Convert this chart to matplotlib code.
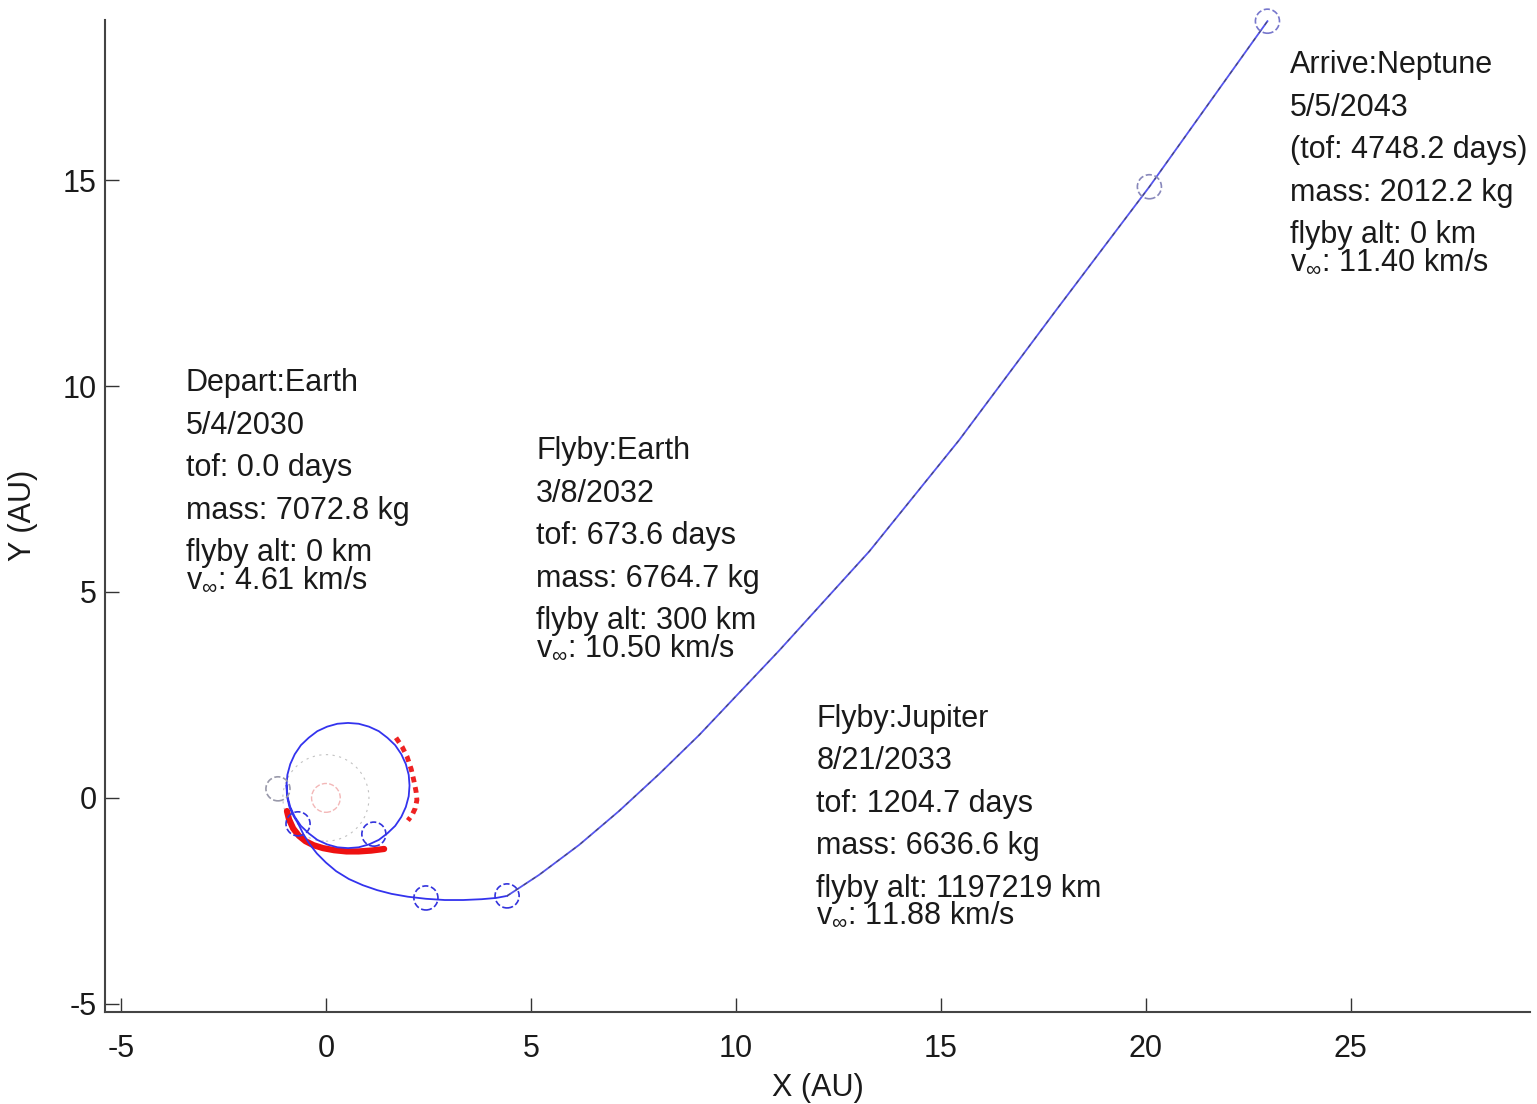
#!/usr/bin/env python3
"""
Trajectory plot: Earth -> Earth -> Jupiter -> Neptune (heliocentric, AU)
"""

import matplotlib
matplotlib.use("Agg")
import matplotlib.pyplot as plt
from matplotlib.patches import Circle

# ---- data (AU) ----
# first leg: departure loop, ~1 rev + a bit, ending at the Earth flyby
leg1_x = [-0.96, -0.94, -0.87, -0.76, -0.61, -0.42, -0.21, 0.03, 0.28, 0.54, 0.80, 1.05,
          1.29, 1.50, 1.69, 1.84, 1.95, 2.02, 2.04, 2.02, 1.95, 1.84, 1.69, 1.50,
          1.29, 1.05, 0.80, 0.54, 0.28, 0.03, -0.21, -0.42, -0.61, -0.76, -0.87, -0.94,
          -0.96, -0.95, -0.89, -0.79, -0.68]
leg1_y = [0.30, 0.04, -0.22, -0.46, -0.68, -0.86, -1.02, -1.13, -1.20, -1.22, -1.20, -1.13,
          -1.02, -0.86, -0.68, -0.46, -0.22, 0.04, 0.30, 0.56, 0.82, 1.06, 1.28, 1.46,
          1.62, 1.73, 1.80, 1.82, 1.80, 1.73, 1.62, 1.46, 1.28, 1.06, 0.82, 0.56,
          0.30, 0.04, -0.22, -0.44, -0.62]

# second leg: Earth flyby -> Jupiter
leg2_x = [-0.68, -0.55, -0.40, -0.22, 0.00, 0.25, 0.56, 0.90, 1.25, 1.60, 2.00, 2.44,
          2.90, 3.35, 3.80, 4.15, 4.42]
leg2_y = [-0.62, -0.88, -1.12, -1.35, -1.57, -1.78, -1.97, -2.12, -2.24, -2.33, -2.40, -2.45,
          -2.48, -2.48, -2.46, -2.43, -2.38]

# third leg: Jupiter -> Neptune
leg3_x = [4.42, 5.20, 6.18, 7.15, 8.13, 9.11, 11.06, 13.26, 15.45, 17.82, 20.09, 22.97]
leg3_y = [-2.38, -1.87, -1.14, -0.32, 0.58, 1.53, 3.58, 5.99, 8.69, 11.85, 14.84, 18.86]

# thrust arcs
thrust_bottom_x = [-0.95, -0.90, -0.80, -0.66, -0.50, -0.30, -0.07, 0.20, 0.50, 0.80, 1.10, 1.42]
thrust_bottom_y = [-0.32, -0.52, -0.74, -0.92, -1.05, -1.15, -1.22, -1.27, -1.30, -1.30, -1.28, -1.24]
thrust_right_x = [1.71, 1.86, 1.98, 2.08, 2.15, 2.20, 2.22, 2.18, 2.10, 2.00]
thrust_right_y = [1.46, 1.24, 1.00, 0.70, 0.40, 0.15, -0.05, -0.25, -0.42, -0.55]

# body positions (dashed circle markers)
body_x = [-1.17, -0.68, 1.17, 2.44, 4.42, 20.09, 22.97]
body_y = [0.22, -0.63, -0.88, -2.43, -2.38, 14.84, 18.86]
body_col = ['#9999aa', '#3333dd', '#3333dd', '#3333dd', '#3333dd', '#8888bb', '#7777cc']

# annotation blocks: (first-line anchor x, y, lines, v_inf)
labels = [
    (-3.42, 10.07, ["Depart:Earth", "5/4/2030", "tof: 0.0 days", "mass: 7072.8 kg",
                    "flyby alt: 0 km"], "4.61"),
    (5.13, 8.42, ["Flyby:Earth", "3/8/2032", "tof: 673.6 days", "mass: 6764.7 kg",
                  "flyby alt: 300 km"], "10.50"),
    (11.96, 1.92, ["Flyby:Jupiter", "8/21/2033", "tof: 1204.7 days", "mass: 6636.6 kg",
                   "flyby alt: 1197219 km"], "11.88"),
    (23.51, 17.79, ["Arrive:Neptune", "5/5/2043", "(tof: 4748.2 days)", "mass: 2012.2 kg",
                    "flyby alt: 0 km"], "11.40"),
]

x_ticks = [-5, 0, 5, 10, 15, 20, 25]
y_ticks = [-5, 0, 5, 10, 15]

plt.rcParams['font.family'] = ['Liberation Sans', 'DejaVu Sans']
plt.rcParams['mathtext.fontset'] = 'custom'
plt.rcParams['mathtext.rm'] = 'Liberation Sans'
plt.rcParams['mathtext.it'] = 'Liberation Sans'
plt.rcParams['axes.unicode_minus'] = False

fig = plt.figure(figsize=(15.37, 11.04), dpi=100)
ax = fig.add_axes([0.0683, 0.0833, 0.927, 0.899])

# sun and earth orbit (faint)
ax.add_patch(Circle((0, 0), 0.35, fill=False, ec='#ee9999', lw=1.0, ls='--', alpha=0.7))
ax.add_patch(Circle((0, 0), 1.05, fill=False, ec='#999999', lw=0.8, ls=(0, (2, 4)), alpha=0.6))

# thrust arcs
ax.plot(thrust_bottom_x, thrust_bottom_y, color='#ee1111', lw=4.5, solid_capstyle='round')
ax.plot(thrust_right_x, thrust_right_y, color='#ee2222', lw=3.5, ls=(0, (1.2, 1.0)))

# trajectory
ax.plot(leg1_x, leg1_y, color='#3333ee', lw=1.3)
ax.plot(leg2_x, leg2_y, color='#3333ee', lw=1.3)
ax.plot(leg3_x, leg3_y, color='#5555ee', lw=1.3)
ax.plot(leg3_x, leg3_y, color='#444444', lw=0.9, ls=(0, (3, 5)), alpha=0.7)

ax.scatter(body_x, body_y, s=300, facecolors='none', edgecolors=body_col,
           linewidths=1.2, linestyles='--', zorder=3, clip_on=False)

# text blocks
line_step = 30.6   # points between lines
v_step = 19.0      # v_inf line sits closer
for x0, y0, lines, vinf in labels:
    for i, txt in enumerate(lines):
        ax.annotate(txt, xy=(x0, y0), xytext=(0, -i * line_step), textcoords='offset points',
                    ha='left', va='center', fontsize=22, color='#1a1a1a')
    off = -(len(lines) - 1) * line_step - v_step
    ax.annotate(r'v$_{\infty}$: ' + vinf + ' km/s', xy=(x0, y0), xytext=(0, off),
                textcoords='offset points', ha='left', va='center', fontsize=22,
                color='#1a1a1a')

ax.set_xlim(-5.39, 29.37)
ax.set_ylim(-5.2, 18.9)
ax.set_xticks(x_ticks)
ax.set_yticks(y_ticks)
ax.tick_params(direction='in', length=10, width=1, colors='#333333', labelsize=22,
               labelcolor='#1a1a1a')
ax.tick_params(axis='x', pad=16)
ax.tick_params(axis='y', pad=6)

for side in ['top', 'right']:
    ax.spines[side].set_visible(False)
for side in ['left', 'bottom']:
    ax.spines[side].set_color('#444444')
    ax.spines[side].set_linewidth(1.5)

ax.set_xlabel('X (AU)', fontsize=22, color='#1a1a1a', labelpad=6)
ax.set_ylabel('Y (AU)', fontsize=22, color='#1a1a1a', labelpad=18)

fig.savefig('out.png', dpi=100)
